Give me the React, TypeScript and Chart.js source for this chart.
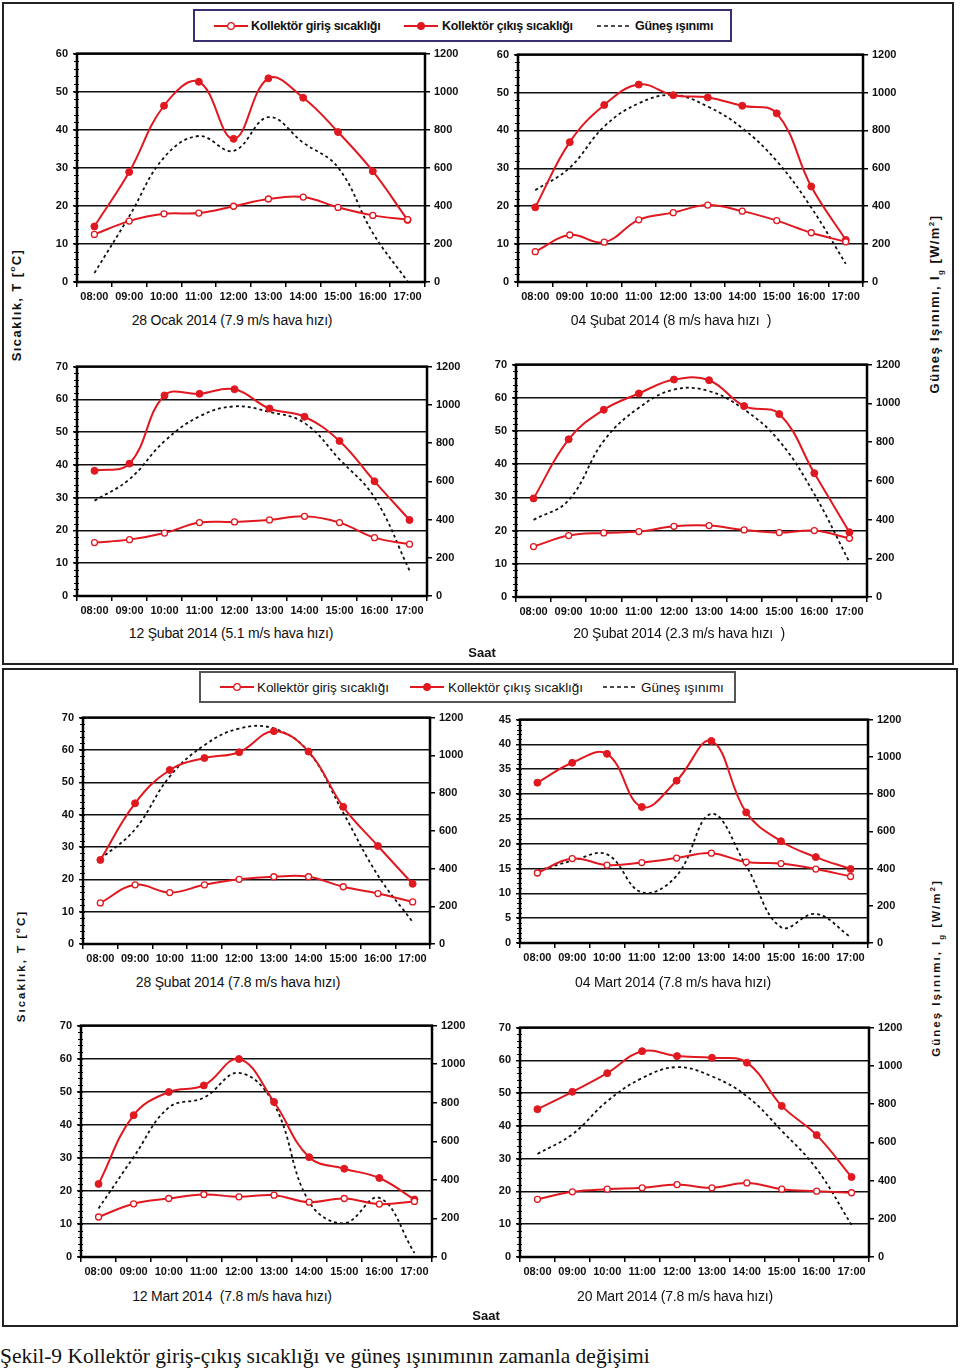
import React, { useEffect, useRef } from "react";
import { Chart, registerables } from "chart.js";
Chart.register(...registerables);

const hours = ["08:00", "09:00", "10:00", "11:00", "12:00", "13:00", "14:00", "15:00", "16:00", "17:00"];

// 28 Ocak 2014
const ocak28Inlet = [12.5, 16.0, 17.9, 18.1, 19.9, 21.8, 22.3, 19.6, 17.5, 16.4];
const ocak28Outlet = [14.6, 28.9, 46.3, 52.6, 37.6, 53.5, 48.4, 39.4, 29.1, 16.3];
const ocak28Rad = [47, 345, 654, 767, 689, 866, 732, 602, 258, 3];
// 04 Şubat 2014
const subat04Inlet = [8.0, 12.4, 10.5, 16.4, 18.3, 20.3, 18.7, 16.2, 13.0, 10.6];
const subat04Outlet = [19.7, 36.9, 46.7, 52.1, 49.3, 48.7, 46.5, 44.5, 25.2, 11.1];
const subat04Rad = [484, 603, 821, 943, 987, 926, 812, 638, 393, 96];
// 12 Şubat 2014
const subat12Inlet = [16.3, 17.2, 19.2, 22.4, 22.6, 23.2, 24.3, 22.4, 17.8, 15.8];
const subat12Outlet = [38.2, 40.4, 61.2, 61.7, 63.1, 57.2, 54.7, 47.3, 35.0, 23.2];
const subat12Rad = [498, 611, 810, 940, 992, 963, 905, 715, 515, 134];
// 20 Şubat 2014
const subat20Inlet = [15.2, 18.5, 19.3, 19.7, 21.3, 21.5, 20.2, 19.4, 20.0, 17.7];
const subat20Outlet = [29.7, 47.5, 56.4, 61.3, 65.5, 65.3, 57.5, 55.1, 37.3, 19.5];
const subat20Rad = [398, 500, 806, 977, 1071, 1063, 968, 806, 531, 180];
// 28 Şubat 2014
const subat28Inlet = [12.7, 18.3, 15.9, 18.3, 20.0, 20.8, 20.8, 17.7, 15.6, 13.0];
const subat28Outlet = [26.0, 43.5, 53.8, 57.5, 59.3, 65.8, 59.5, 42.4, 30.3, 18.6];
const subat28Rad = [450, 608, 888, 1054, 1142, 1142, 1019, 695, 363, 117];
// 04 Mart 2014
const mart04Inlet = [14.1, 17.0, 15.7, 16.2, 17.1, 18.1, 16.3, 16.0, 14.9, 13.4];
const mart04Outlet = [32.3, 36.3, 38.1, 27.4, 32.7, 40.7, 26.3, 20.5, 17.3, 14.9];
const mart04Rad = [388, 441, 476, 272, 361, 693, 414, 85, 156, 32];
// 12 Mart 2014
const mart12Inlet = [12.1, 16.1, 17.7, 18.9, 18.2, 18.7, 16.6, 17.7, 16.0, 16.8];
const mart12Outlet = [22.1, 42.9, 49.9, 51.9, 59.9, 46.9, 30.2, 26.7, 23.9, 17.4];
const mart12Rad = [252, 518, 775, 826, 955, 792, 286, 175, 307, 21];
// 20 Mart 2014
const mart20Inlet = [17.6, 19.9, 20.7, 21.1, 22.1, 21.1, 22.6, 20.7, 20.1, 19.6];
const mart20Outlet = [45.1, 50.4, 56.1, 62.8, 61.3, 60.8, 59.3, 46.1, 37.2, 24.4];
const mart20Rad = [539, 642, 815, 936, 993, 945, 841, 660, 461, 168];

const captions = [
  "28 Ocak 2014 (7.9 m/s hava hızı)",
  "04 Şubat 2014 (8 m/s hava hızı  )",
  "12 Şubat 2014 (5.1 m/s hava hızı)",
  "20 Şubat 2014 (2.3 m/s hava hızı  )",
  "28 Şubat 2014 (7.8 m/s hava hızı)",
  "04 Mart 2014 (7.8 m/s hava hızı)",
  "12 Mart 2014  (7.8 m/s hava hızı)",
  "20 Mart 2014 (7.8 m/s hava hızı)",
];

const legendLabels = ["Kollektör giriş sıcaklığı", "Kollektör çıkış sıcaklığı", "Güneş ışınımı"];

const RED = "rgb(224,24,32)";
const FONT = "'Liberation Sans', Arial, sans-serif";

type Spec = {
  inlet: number[]; outlet: number[]; rad: number[];
  yMax: number; yStep: number;
  left: number; top: number; w: number; h: number;
  caption: string; capX: number; capY: number; capSize: number;
};

const specs: Spec[] = [
  { inlet: ocak28Inlet, outlet: ocak28Outlet, rad: ocak28Rad, yMax: 60, yStep: 10, left: 77, top: 52, w: 348, h: 230, caption: captions[0], capX: 232, capY: 320, capSize: 14 },
  { inlet: subat04Inlet, outlet: subat04Outlet, rad: subat04Rad, yMax: 60, yStep: 10, left: 518, top: 53, w: 345, h: 229, caption: captions[1], capX: 671, capY: 320, capSize: 14 },
  { inlet: subat12Inlet, outlet: subat12Outlet, rad: subat12Rad, yMax: 70, yStep: 10, left: 77, top: 365, w: 350, h: 231, caption: captions[2], capX: 231, capY: 633, capSize: 14 },
  { inlet: subat20Inlet, outlet: subat20Outlet, rad: subat20Rad, yMax: 70, yStep: 10, left: 516, top: 363, w: 351, h: 234, caption: captions[3], capX: 679, capY: 633, capSize: 14 },
  { inlet: subat28Inlet, outlet: subat28Outlet, rad: subat28Rad, yMax: 70, yStep: 10, left: 83, top: 716, w: 347, h: 228, caption: captions[4], capX: 238, capY: 982, capSize: 14 },
  { inlet: mart04Inlet, outlet: mart04Outlet, rad: mart04Rad, yMax: 45, yStep: 5, left: 520, top: 718, w: 348, h: 225, caption: captions[5], capX: 673, capY: 982, capSize: 14 },
  { inlet: mart12Inlet, outlet: mart12Outlet, rad: mart12Rad, yMax: 70, yStep: 10, left: 81, top: 1024, w: 351, h: 233, caption: captions[6], capX: 232, capY: 1296, capSize: 14 },
  { inlet: mart20Inlet, outlet: mart20Outlet, rad: mart20Rad, yMax: 70, yStep: 10, left: 520, top: 1026, w: 349, h: 231, caption: captions[7], capX: 675, capY: 1296, capSize: 14 },
];

const PAD_L = 45, PAD_R = 50, PAD_T = 10, PAD_B = 28;

const framePlugin = {
  id: "frame",
  beforeDatasetsDraw(chart: any) {
    const { ctx, chartArea } = chart;
    const ys = chart.scales.y;
    ctx.save();
    ctx.strokeStyle = "#000";
    ctx.lineWidth = 2.5;
    ctx.strokeRect(chartArea.left, chartArea.top, chartArea.right - chartArea.left, chartArea.bottom - chartArea.top);
    const step = ys.options.ticks.stepSize / 5;
    ctx.lineWidth = 1;
    for (let v = 0; v <= ys.max + 1e-6; v += step) {
      const y = Math.round(ys.getPixelForValue(v)) + 0.5;
      ctx.beginPath();
      ctx.moveTo(chartArea.left - 3, y);
      ctx.lineTo(chartArea.left + 2, y);
      ctx.stroke();
    }
    ctx.restore();
  },
};

function LineChart({ spec }: { spec: Spec }) {
  const ref = useRef<HTMLCanvasElement>(null);
  useEffect(() => {
    const tickFont = { family: FONT, size: 11, weight: "bold" as const };
    const plain = (v: any) => String(v);
    const chart = new Chart(ref.current as HTMLCanvasElement, {
      type: "line",
      data: {
        labels: hours,
        datasets: [
          {
            label: legendLabels[0], data: spec.inlet, yAxisID: "y",
            borderColor: RED, borderWidth: 2, tension: 0.4,
            pointRadius: 3, pointBackgroundColor: "#fff", pointBorderColor: RED, pointBorderWidth: 1.3,
          },
          {
            label: legendLabels[1], data: spec.outlet, yAxisID: "y",
            borderColor: RED, borderWidth: 2, tension: 0.4,
            pointRadius: 3.5, pointBackgroundColor: RED, pointBorderColor: RED, pointBorderWidth: 1,
          },
          {
            label: legendLabels[2], data: spec.rad, yAxisID: "y1",
            borderColor: "#111", borderWidth: 1.8, borderDash: [3, 3], tension: 0.4, pointRadius: 0,
          },
        ],
      },
      options: {
        responsive: false,
        animation: false,
        devicePixelRatio: 1,
        layout: { padding: { top: PAD_T, left: 0, right: 0, bottom: 0 } },
        plugins: { legend: { display: false }, tooltip: { enabled: false } },
        scales: {
          x: {
            offset: true,
            grid: { offset: true, drawOnChartArea: false, drawTicks: true, tickLength: 5, color: "#000", lineWidth: 1.5 },
            border: { display: false },
            ticks: { font: tickFont, color: "#111", padding: 3, maxRotation: 0, autoSkip: false },
            afterFit: (s: any) => { s.height = PAD_B; },
          },
          y: {
            position: "left", min: 0, max: spec.yMax,
            ticks: { stepSize: spec.yStep, font: tickFont, color: "#111", padding: 5, callback: plain },
            grid: { color: "#111", lineWidth: 1.5, tickLength: 4 },
            border: { display: false },
            afterFit: (s: any) => { s.width = PAD_L; },
          },
          y1: {
            position: "right", min: 0, max: 1200,
            ticks: { stepSize: 200, font: tickFont, color: "#111", padding: 4, callback: plain },
            grid: { drawOnChartArea: false, tickLength: 5, color: "#000", lineWidth: 1.5 },
            border: { display: false },
            afterFit: (s: any) => { s.width = PAD_R; },
          },
        },
      } as any,
      plugins: [framePlugin],
    });
    return () => chart.destroy();
  }, [spec]);
  const cw = spec.w + PAD_L + PAD_R;
  const ch = spec.h + PAD_T + PAD_B;
  return (
    <>
      <canvas
        ref={ref}
        width={cw}
        height={ch}
        style={{ position: "absolute", left: spec.left - PAD_L, top: spec.top - PAD_T, width: cw, height: ch }}
      />
      <div
        style={{
          position: "absolute", left: spec.capX, top: spec.capY, transform: "translate(-50%,-50%)",
          fontFamily: FONT, fontSize: spec.capSize, color: "#111", whiteSpace: "pre", letterSpacing: -0.2,
        }}
      >
        {spec.caption}
      </div>
    </>
  );
}

function LegendBox({ left, top, width, height, bold, borderColor }: any) {
  const offsets = [
    { s: 19, t: 56 },
    { s: 209, t: 247 },
    { s: 402, t: 440 },
  ];
  const textStyle: any = {
    position: "absolute", top: "50%", transform: "translateY(-50%)", fontFamily: FONT,
    fontSize: bold ? 12.5 : 13.5, fontWeight: bold ? "bold" : "normal", letterSpacing: bold ? -0.3 : -0.1,
    color: "#111", whiteSpace: "nowrap",
  };
  return (
    <div style={{ position: "absolute", left, top, width, height, border: `2px solid ${borderColor}`, boxSizing: "border-box", background: "#fff" }}>
      {offsets.map((o, i) => (
        <React.Fragment key={i}>
          <svg width={34} height={10} style={{ position: "absolute", left: o.s, top: "50%", marginTop: -5 }}>
            {i < 2 ? (
              <>
                <line x1={0} y1={5} x2={34} y2={5} stroke={RED} strokeWidth={2} />
                <circle cx={17} cy={5} r={3.3} fill={i === 0 ? "#fff" : RED} stroke={RED} strokeWidth={1.3} />
              </>
            ) : (
              <line x1={0} y1={5} x2={34} y2={5} stroke="#111" strokeWidth={1.6} strokeDasharray="4 3" />
            )}
          </svg>
          <div style={{ ...textStyle, left: o.t }}>{legendLabels[i]}</div>
        </React.Fragment>
      ))}
    </div>
  );
}

function SideTitle({ x, y, children, spaced }: any) {
  return (
    <div
      style={{
        position: "absolute", left: x, top: y, transform: "translate(-50%,-50%) rotate(-90deg)",
        fontFamily: FONT, fontWeight: "bold", fontSize: spaced ? 11.5 : 13, letterSpacing: spaced ? 2 : 1.4,
        whiteSpace: "nowrap", color: "#111",
      }}
    >
      {children}
    </div>
  );
}

export default function App() {
  return (
    <div style={{ position: "absolute", left: 0, top: 0, width: 960, height: 1370, background: "#fff", overflow: "hidden" }}>
      <div style={{ position: "absolute", left: 2, top: 2, width: 952, height: 663, border: "2px solid #222", boxSizing: "border-box" }} />
      <div style={{ position: "absolute", left: 2, top: 668, width: 956, height: 659, border: "2px solid #222", boxSizing: "border-box" }} />

      <LegendBox left={193} top={9} width={539} height={33} bold borderColor="#3b2f72" />
      <LegendBox left={199} top={671} width={537} height={32} bold={false} borderColor="#555" />

      {specs.map((s, i) => (
        <LineChart key={i} spec={s} />
      ))}

      <SideTitle x={16} y={305}>Sıcaklık, T [<sup style={{ fontSize: 8 }}>o</sup>C]</SideTitle>
      <SideTitle x={936} y={304}>Güneş Işınımı, I<sub style={{ fontSize: 8 }}>g</sub> [W/m<sup style={{ fontSize: 8 }}>2</sup>]</SideTitle>
      <SideTitle x={20} y={966} spaced>Sıcaklık, T [<sup style={{ fontSize: 8 }}>o</sup>C]</SideTitle>
      <SideTitle x={937} y={968} spaced>Güneş Işınımı, I<sub style={{ fontSize: 8 }}>g</sub> [W/m<sup style={{ fontSize: 8 }}>2</sup>]</SideTitle>

      <div style={{ position: "absolute", left: 482, top: 652, transform: "translate(-50%,-50%)", fontFamily: FONT, fontWeight: "bold", fontSize: 13, color: "#111" }}>Saat</div>
      <div style={{ position: "absolute", left: 486, top: 1315, transform: "translate(-50%,-50%)", fontFamily: FONT, fontWeight: "bold", fontSize: 13, color: "#111" }}>Saat</div>

      <div style={{ position: "absolute", left: 0, top: 1343, fontFamily: "'Liberation Serif', 'Times New Roman', serif", fontSize: 21.5, color: "#111", whiteSpace: "nowrap", lineHeight: "26px" }}>
        Şekil-9 Kollektör giriş-çıkış sıcaklığı ve güneş ışınımının zamanla değişimi
      </div>
    </div>
  );
}
